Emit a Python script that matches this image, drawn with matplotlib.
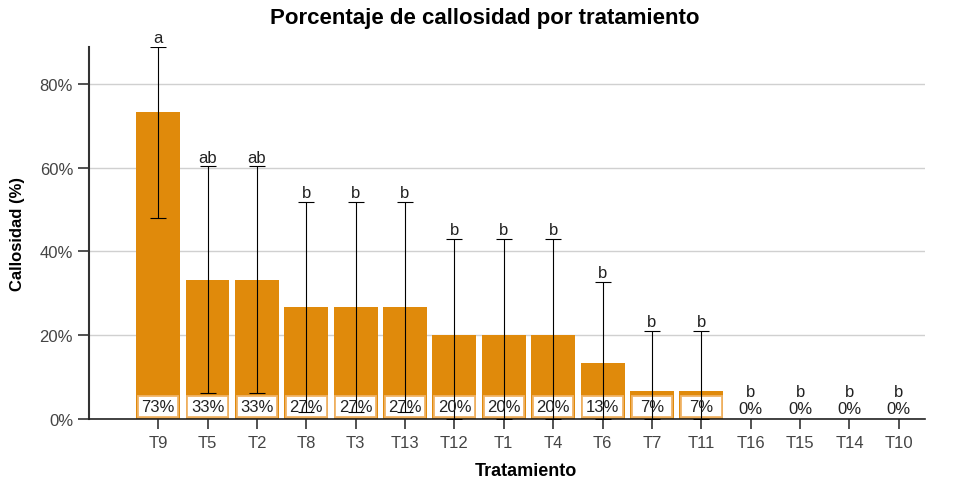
import matplotlib.pyplot as plt
from matplotlib.patches import Rectangle

plt.rcParams['font.family'] = ['Liberation Sans', 'DejaVu Sans']

# datos
tratamientos = ['T9', 'T5', 'T2', 'T8', 'T3', 'T13', 'T12', 'T1', 'T4', 'T6',
                'T7', 'T11', 'T16', 'T15', 'T14', 'T10']
callosidad = [73.3, 33.3, 33.3, 26.7, 26.7, 26.7, 20.0, 20.0, 20.0, 13.3,
              6.7, 6.7, 0, 0, 0, 0]
ic_inf = [48.0, 6.3, 6.3, 1.7, 1.7, 1.7, 0, 0, 0, 0, 0, 0, 0, 0, 0, 0]
ic_sup = [88.8, 60.3, 60.3, 51.8, 51.8, 51.8, 43.0, 43.0, 43.0, 32.8,
          21.0, 21.0, 0, 0, 0, 0]
letras = ['a', 'ab', 'ab', 'b', 'b', 'b', 'b', 'b', 'b', 'b',
          'b', 'b', 'b', 'b', 'b', 'b']

naranja = '#E08A0B'

fig = plt.figure(figsize=(9.54, 4.81), dpi=100)
ax = fig.add_axes([0.0933, 0.1268, 0.8763, 0.7732])

x = list(range(len(tratamientos)))
ax.bar(x, callosidad, width=0.89, color=naranja, zorder=2)

err_low = [c - l for c, l in zip(callosidad, ic_inf)]
err_up = [u - c for c, u in zip(callosidad, ic_sup)]
con_error = [i for i in x if ic_sup[i] > 0]
ax.errorbar([x[i] for i in con_error], [callosidad[i] for i in con_error],
            yerr=[[err_low[i] for i in con_error], [err_up[i] for i in con_error]],
            fmt='none', ecolor='black', elinewidth=0.8, capsize=6, capthick=0.8, zorder=4)

for i in x:
    if callosidad[i] > 0:
        # caja blanca con la etiqueta del porcentaje
        ax.add_patch(Rectangle((i - 0.41, 0.5), 0.82, 5.0, fc='white', ec='#F0B468',
                               lw=1.3, zorder=3))
        ax.text(i, 3.0, f'{callosidad[i]:.0f}%', ha='center', va='center', fontsize=12,
                color='#222222', zorder=5)
        ax.text(i, ic_sup[i] + 0.4, letras[i], ha='center', va='bottom', fontsize=12,
                color='#222222', zorder=5)
    else:
        ax.text(i, 2.6, '0%', ha='center', va='center', fontsize=12, color='#222222')
        ax.text(i, 6.6, letras[i], ha='center', va='center', fontsize=12, color='#222222')

ax.set_xlim(-1.4, 15.53)
ax.set_ylim(0, 88.8)
ax.set_yticks([0, 20, 40, 60, 80])
ax.set_yticklabels(['0%', '20%', '40%', '60%', '80%'])
ax.set_xticks(x)
ax.set_xticklabels(tratamientos)
ax.tick_params(labelsize=12, labelcolor='#444444', width=1.2, color='#333333')
ax.tick_params(axis='y', length=8, pad=3.5)
ax.tick_params(axis='x', length=7, pad=4.5)
ax.yaxis.grid(True, color='#D0D0D0', lw=1, zorder=0)
ax.set_axisbelow(True)
for s in ['top', 'right']:
    ax.spines[s].set_visible(False)
ax.spines['left'].set_color('#333333')
ax.spines['left'].set_linewidth(1.5)
ax.spines['bottom'].set_color('#222222')
ax.spines['bottom'].set_linewidth(1.2)

ax.set_xlabel('Tratamiento', fontsize=13, fontweight='bold')
ax.xaxis.set_label_coords(0.523, -0.115)
ax.set_ylabel('Callosidad (%)', fontsize=12, fontweight='bold')
ax.yaxis.set_label_coords(-0.076, 0.5)

fig.text(0.508, 0.962, 'Porcentaje de callosidad por tratamiento', ha='center', va='center',
         fontsize=16, fontweight='bold')

fig.savefig('out.png', dpi=100)
